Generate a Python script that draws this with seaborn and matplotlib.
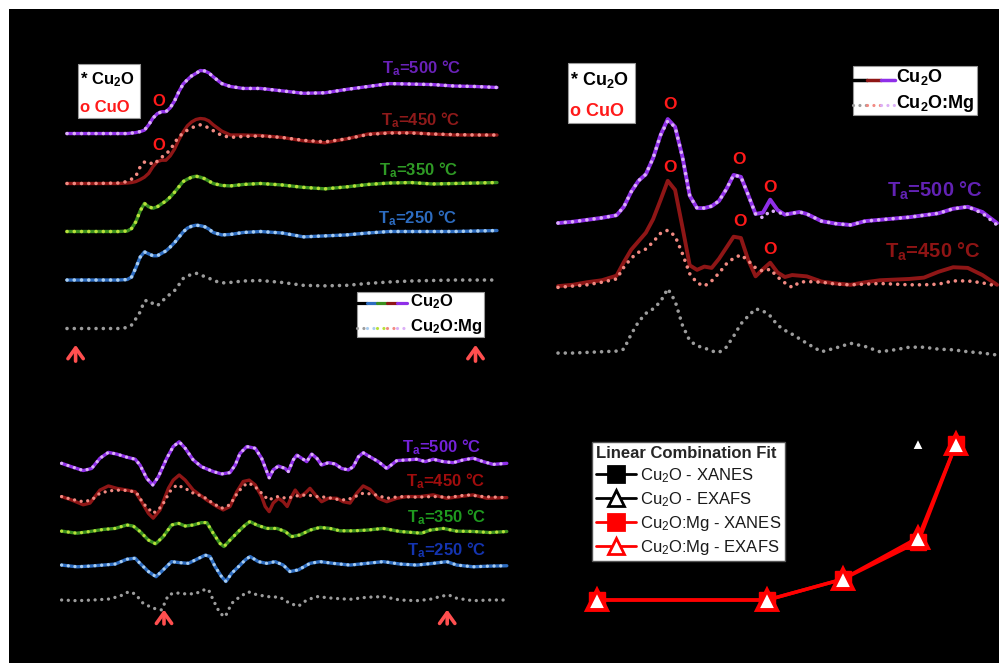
import numpy as np
import matplotlib
matplotlib.use("Agg")
import matplotlib.pyplot as plt
from matplotlib.lines import Line2D
from matplotlib.patches import Rectangle
import seaborn as sns

# ---------------------------------------------------------------- data
# (a) Cu K-edge XANES, normalized absorption
energy_ev = [8960, 8966, 8972, 8974, 8975, 8976, 8977, 8978, 8979, 8980, 8981, 8982,
             8983, 8984, 8985, 8986, 8987, 8988, 8989, 8990, 8991, 8992, 8993, 8994,
             8996, 8998, 9001, 9005, 9010, 9015, 9020, 9025, 9030, 9035, 9040, 9045,
             9050, 9055, 9060]
xanes_500 = [0.03, 0.03, 0.03, 0.03, 0.04, 0.05, 0.07, 0.10, 0.21, 0.35, 0.44, 0.48,
             0.48, 0.56, 0.70, 0.89, 1.05, 1.14, 1.22, 1.27, 1.33, 1.32, 1.28, 1.20,
             1.06, 1.00, 0.96, 0.96, 0.91, 0.86, 0.87, 0.94, 1.00, 1.06, 1.05, 1.04,
             1.01, 1.00, 0.98]
xanes_450 = [0.00, 0.00, 0.00, 0.01, 0.02, 0.04, 0.08, 0.13, 0.21, 0.35, 0.45, 0.48,
             0.48, 0.57, 0.71, 0.90, 1.06, 1.19, 1.27, 1.32, 1.34, 1.33, 1.29, 1.21,
             1.08, 1.00, 1.00, 0.99, 0.95, 0.88, 0.84, 0.92, 1.02, 1.05, 1.05, 1.02,
             1.00, 1.00, 1.00]
xanes_450_mg = [0.00, 0.00, 0.01, 0.04, 0.09, 0.15, 0.34, 0.44, 0.45, 0.39, 0.46, 0.54,
                0.61, 0.69, 0.84, 0.96, 1.04, 1.10, 1.15, 1.18, 1.21, 1.19, 1.14, 1.09,
                0.99, 0.95, 0.97, 0.98, 0.95, 0.89, 0.86, 0.92, 1.01, 1.04, 1.04, 1.02,
                1.01, 1.00, 1.00]
xanes_350 = [0.01, 0.01, 0.01, 0.02, 0.07, 0.21, 0.43, 0.59, 0.52, 0.49, 0.52, 0.58,
             0.64, 0.72, 0.82, 0.93, 1.04, 1.09, 1.13, 1.15, 1.13, 1.10, 1.05, 1.00,
             0.96, 0.95, 0.98, 1.00, 0.97, 0.92, 0.89, 0.93, 0.98, 1.01, 1.02, 0.99,
             1.00, 1.01, 1.02]
xanes_250 = [0.01, 0.01, 0.01, 0.02, 0.07, 0.26, 0.48, 0.59, 0.55, 0.51, 0.51, 0.56,
             0.61, 0.69, 0.78, 0.89, 1.00, 1.08, 1.12, 1.14, 1.13, 1.11, 1.06, 0.99,
             0.94, 0.95, 0.99, 1.01, 0.98, 0.90, 0.92, 0.94, 0.98, 1.01, 1.01, 1.01,
             1.01, 1.02, 1.03]
xanes_asdep = [0.01, 0.01, 0.01, 0.03, 0.08, 0.21, 0.35, 0.58, 0.59, 0.52, 0.48, 0.56,
               0.65, 0.72, 0.79, 0.91, 1.04, 1.09, 1.13, 1.15, 1.12, 1.08, 1.05, 1.00,
               0.95, 0.96, 0.99, 1.00, 0.96, 0.90, 0.89, 0.90, 0.94, 0.97, 0.99, 1.00,
               1.01, 1.01, 1.01]

# (b) Fourier-transform magnitude |chi(R)|
r_ang = [0.0, 0.2, 0.4, 0.6,
         0.8, 0.9, 1.0, 1.1, 1.2, 1.3, 1.4, 1.5, 1.6, 1.7, 1.8, 1.9, 2.0, 2.1, 2.2,
         2.3, 2.4, 2.5, 2.6, 2.7, 2.8, 2.9, 3.0, 3.1, 3.2, 3.3, 3.4,
         3.6, 3.8, 4.0, 4.2, 4.4, 4.6, 4.8, 5.0, 5.2, 5.4, 5.6, 5.8, 6.0]
ft_500 = [0.03, 0.05, 0.08, 0.11,
          0.15, 0.28, 0.51, 0.68, 0.78, 1.03, 1.38, 1.63, 1.51, 1.05, 0.45, 0.26, 0.26,
          0.29, 0.37, 0.55, 0.77, 0.74, 0.46, 0.17, 0.19, 0.39, 0.23, 0.16, 0.18, 0.20, 0.17,
          0.06, 0.02, 0.00, 0.06, 0.08, 0.10, 0.12, 0.15, 0.18, 0.25, 0.28, 0.20, 0.03]
ft_500_mg = [0.03, 0.05, 0.08, 0.11,
             0.15, 0.28, 0.51, 0.68, 0.78, 1.03, 1.38, 1.60, 1.51, 1.05, 0.45, 0.26, 0.26,
             0.29, 0.37, 0.55, 0.77, 0.74, 0.46, 0.17, 0.11, 0.22, 0.20, 0.16, 0.18, 0.20, 0.17,
             0.06, 0.02, 0.00, 0.06, 0.08, 0.10, 0.12, 0.15, 0.18, 0.25, 0.28, 0.18, 0.00]
ft_450 = [0.06, 0.08, 0.12, 0.15,
          0.22, 0.43, 0.62, 0.75, 0.88, 1.09, 1.38, 1.68, 1.54, 0.97, 0.38, 0.31, 0.36,
          0.34, 0.48, 0.65, 0.82, 0.80, 0.46, 0.21, 0.32, 0.42, 0.27, 0.20, 0.23, 0.22, 0.21,
          0.13, 0.10, 0.08, 0.12, 0.15, 0.16, 0.17, 0.19, 0.28, 0.35, 0.34, 0.23, 0.08]
ft_450_mg = [0.04, 0.06, 0.08, 0.12,
             0.17, 0.35, 0.49, 0.58, 0.63, 0.74, 0.87, 0.92, 0.83, 0.56, 0.25, 0.11, 0.06,
             0.14, 0.26, 0.40, 0.49, 0.54, 0.45, 0.34, 0.29, 0.32, 0.20, 0.11, 0.04, 0.12, 0.13,
             0.12, 0.09, 0.08, 0.09, 0.10, 0.09, 0.08, 0.08, 0.09, 0.14, 0.14, 0.11, 0.06]
ft_asdep = [0.03, 0.03, 0.04, 0.05,
            0.06, 0.09, 0.32, 0.51, 0.64, 0.71, 0.82, 1.02, 0.83, 0.46, 0.22, 0.14, 0.11,
            0.06, 0.04, 0.12, 0.29, 0.48, 0.60, 0.71, 0.68, 0.60, 0.46, 0.38, 0.32, 0.25, 0.18,
            0.05, 0.11, 0.18, 0.13, 0.05, 0.08, 0.12, 0.12, 0.09, 0.08, 0.05, 0.03, 0.00]

# (c) EXAFS oscillations chi(k)
k_500 = [1.54, 1.79, 2.08, 2.29, 2.50, 2.71, 2.92, 3.17, 3.38, 3.50, 3.67, 3.82, 3.96,
         4.17, 4.33, 4.48, 4.63, 4.83, 5.04, 5.33, 5.54, 5.75, 5.88, 6.00, 6.17, 6.38,
         6.54, 6.67, 6.73, 6.83, 6.96, 7.13, 7.21, 7.33, 7.42, 7.54, 7.67, 7.79, 7.92,
         8.04, 8.21, 8.38, 8.54, 8.71, 8.83, 8.96, 9.08, 9.25, 9.46, 9.67, 9.92, 10.17,
         10.42, 10.63, 10.83, 11.08, 11.33, 11.58, 11.83, 12.08, 12.33, 12.67]
chi_500 = [-0.01, -0.11, -0.22, -0.16, 0.14, 0.31, 0.26, 0.17, 0.11, -0.06, -0.45, -0.64,
           -0.40, 0.14, 0.48, 0.62, 0.43, 0.09, -0.11, -0.25, -0.32, -0.28, -0.06, 0.28,
           0.48, 0.43, 0.14, -0.25, -0.43, -0.20, -0.09, -0.16, -0.25, 0.09, 0.23, 0.14,
           0.04, 0.26, 0.14, -0.06, 0.01, -0.03, -0.16, -0.20, -0.11, 0.18, 0.30, 0.18,
           0.04, -0.16, 0.07, 0.09, 0.11, 0.04, 0.11, 0.04, 0.01, 0.09, 0.14, 0.04,
           -0.04, -0.01]
k_450 = [1.54, 1.79, 2.08, 2.25, 2.50, 2.71, 2.92, 3.17, 3.38, 3.54, 3.71, 3.83, 4.00,
         4.21, 4.33, 4.48, 4.63, 4.83, 5.17, 5.42, 5.58, 5.75, 5.92, 6.08, 6.23, 6.38,
         6.54, 6.63, 6.73, 6.83, 6.96, 7.08, 7.18, 7.29, 7.38, 7.50, 7.63, 7.75, 7.92,
         8.04, 8.21, 8.42, 8.58, 8.75, 8.92, 9.08, 9.25, 9.46, 9.67, 9.92, 10.17, 10.50,
         10.83, 11.17, 11.50, 11.83, 12.17, 12.67]
chi_450 = [0.02, -0.08, -0.22, -0.17, 0.21, 0.33, 0.26, 0.21, 0.16, -0.13, -0.47, -0.61,
           -0.37, 0.26, 0.50, 0.65, 0.50, 0.21, -0.08, -0.27, -0.37, -0.27, 0.16, 0.46,
           0.50, 0.36, 0.02, -0.27, -0.42, -0.17, -0.03, -0.13, -0.27, 0.02, 0.21, 0.02,
           0.12, 0.26, 0.02, -0.13, -0.03, -0.03, -0.13, -0.17, 0.12, 0.33, 0.23, -0.03,
           -0.13, -0.03, 0.02, 0.02, 0.07, -0.03, 0.02, 0.07, -0.03, -0.01]
k_450_mg = [1.54, 1.79, 2.08, 2.29, 2.50, 2.75, 3.00, 3.25, 3.42, 3.58, 3.83, 4.04, 4.25,
            4.42, 4.63, 4.83, 5.08, 5.33, 5.54, 5.75, 5.96, 6.17, 6.33, 6.54, 6.71, 6.92,
            7.17, 7.42, 7.67, 7.92, 8.17, 8.42, 8.67, 8.92, 9.08, 9.33, 9.67, 10.00, 10.42,
            10.83, 11.25, 11.67, 12.08, 12.67]
chi_450_mg = [0.02, -0.06, -0.13, -0.08, 0.12, 0.19, 0.21, 0.19, 0.12, -0.18, -0.47, -0.27,
              0.17, 0.36, 0.26, 0.12, 0.02, -0.18, -0.32, -0.22, 0.17, 0.41, 0.36, 0.12,
              -0.08, 0.02, -0.03, 0.04, 0.07, 0.02, 0.00, -0.06, -0.08, 0.04, 0.12, 0.09,
              -0.03, 0.02, 0.00, 0.02, 0.00, 0.07, 0.02, -0.01]
k_350 = [1.54, 1.92, 2.25, 2.58, 2.88, 3.17, 3.33, 3.50, 3.71, 3.89, 4.08, 4.29, 4.46,
         4.63, 4.83, 5.04, 5.17, 5.33, 5.50, 5.60, 5.75, 5.96, 6.13, 6.25, 6.42, 6.67,
         6.92, 7.13, 7.29, 7.50, 7.75, 8.00, 8.25, 8.50, 8.83, 9.17, 9.58, 10.00, 10.33,
         10.54, 10.75, 11.08, 11.42, 11.83, 12.25, 12.67]
chi_350 = [0.01, -0.05, 0.00, 0.06, 0.09, 0.19, 0.16, 0.00, -0.25, -0.36, -0.15, 0.19,
           0.24, 0.16, 0.19, 0.26, 0.26, -0.05, -0.35, -0.44, -0.25, 0.00, 0.19, 0.29,
           0.19, 0.09, 0.09, 0.00, -0.15, -0.10, 0.04, 0.12, 0.09, 0.02, 0.02, 0.04,
           0.09, 0.00, -0.03, -0.05, 0.04, 0.09, 0.01, 0.00, -0.03, 0.00]
k_250 = [1.54, 1.92, 2.25, 2.58, 2.88, 3.17, 3.38, 3.50, 3.71, 3.90, 4.08, 4.29, 4.50,
         4.71, 4.92, 5.13, 5.25, 5.38, 5.54, 5.65, 5.79, 5.96, 6.13, 6.25, 6.46, 6.67,
         6.88, 7.08, 7.25, 7.46, 7.75, 8.00, 8.33, 8.75, 9.17, 9.58, 10.00, 10.42, 10.83,
         11.17, 11.42, 11.83, 12.25, 12.67]
chi_250 = [0.02, -0.03, -0.01, 0.02, 0.05, 0.19, 0.22, 0.07, -0.17, -0.32, -0.12, 0.12,
           0.09, 0.07, 0.19, 0.31, 0.27, -0.03, -0.32, -0.46, -0.22, -0.03, 0.17, 0.27,
           0.12, 0.07, 0.12, 0.02, -0.17, -0.12, 0.07, 0.12, 0.07, 0.02, 0.07, 0.12,
           0.05, 0.02, 0.07, 0.12, 0.02, -0.03, -0.01, 0.00]
k_asdep = [1.54, 1.92, 2.33, 2.75, 3.08, 3.21, 3.38, 3.58, 3.83, 4.04, 4.21, 4.38, 4.63,
           4.88, 5.08, 5.21, 5.33, 5.50, 5.63, 5.79, 6.00, 6.21, 6.33, 6.67, 7.00, 7.25,
           7.46, 7.67, 7.92, 8.33, 8.75, 9.17, 9.58, 10.00, 10.42, 10.75, 11.00, 11.21,
           11.42, 11.83, 12.25, 12.67]
chi_asdep = [0.00, -0.02, 0.00, 0.03, 0.15, 0.24, 0.18, -0.10, -0.24, -0.29, 0.15, 0.21,
             0.18, 0.18, 0.29, 0.31, 0.00, -0.39, -0.49, -0.10, 0.10, 0.24, 0.18, 0.10,
             0.08, -0.10, -0.18, 0.00, 0.10, 0.05, 0.02, 0.08, 0.10, 0.00, -0.02, 0.02,
             0.10, 0.15, 0.05, -0.02, 0.00, 0.00]

# (d) CuO fraction from linear combination fitting
anneal_temp = [25, 250, 350, 450, 500]
cu2o_xanes = [0, 2, 10, 75, 100]
cu2o_exafs = [0, 3, 10, 75, 100]
mg_xanes = [0, 0, 10, 28, 75]
mg_exafs = [0, 0, 10, 30, 75]

temp_labels = ["T$_a$=500 °C", "T$_a$=450 °C", "T$_a$=350 °C", "T$_a$=250 °C"]

# ---------------------------------------------------------------- style
sns.set_theme(style="white")
plt.rcParams["font.family"] = ["Liberation Sans", "DejaVu Sans"]
plt.rcParams["mathtext.default"] = "regular"

W, H = 999, 663
fig = plt.figure(figsize=(W / 100, H / 100), dpi=100, facecolor="white")
fig.add_artist(Rectangle((9 / W, 0), 1 - 9 / W, 1 - 9 / H, transform=fig.transFigure,
                         facecolor="black", edgecolor="none", zorder=-10))

DOT = (0, (0.01, 2.0))

# colour pairs: (Cu2O solid, Cu2O:Mg dotted)
C_500 = ("#8f2fe8", "#dcb0f7")
C_450 = ("#8e1616", "#f28a82")
C_350 = ("#3b8f1f", "#b8e03a")
C_250 = ("#2d6cc0", "#a9cdf0")
C_DEP = ("#000000", "#9c9c9c")
LAB_A = ["#6a22b8", "#8e1a1a", "#2f9a25", "#2d6cc0"]
LAB_C = ["#7422d8", "#a00d0d", "#1f9a1f", "#1434b0"]


def fpx(x, y):
    return (x / W, 1 - y / H)


def px_axes(x0, y0, x1, y1):
    ax = fig.add_axes([x0 / W, 1 - y1 / H, (x1 - x0) / W, (y1 - y0) / H])
    ax.set_axis_off()
    return ax


def trace(ax, x, y, color, dotted=False, lw=2.3, z=2):
    kws = dict(x=np.asarray(x, float), y=np.asarray(y, float), ax=ax, color=color,
               estimator=None, sort=False, linewidth=lw, zorder=z)
    if dotted:
        kws.update(linestyle=DOT, dash_capstyle="round", zorder=z + 1)
    else:
        kws.update(solid_capstyle="round", solid_joinstyle="round")
    sns.lineplot(**kws)


def offset(vals, off):
    return np.asarray(vals, float) + off


def up_arrow(ax, x, y0, y1):
    ax.annotate("", xy=(x, y1), xytext=(x, y0), annotation_clip=False,
                arrowprops=dict(arrowstyle="->,head_length=0.35,head_width=0.25",
                                color="#ff4f4f", lw=2.6, mutation_scale=22))


# ---------------------------------------------------------------- (a) XANES
ax_a = px_axes(45.5, 57.4, 518.5, 367.8)
ax_a.set_xlim(8955, 9065)
ax_a.set_ylim(-0.8, 5.6)
xanes_sets = [
    (xanes_500, xanes_500, 4, C_500),
    (xanes_450, xanes_450_mg, 3, C_450),
    (xanes_350, xanes_350, 2, C_350),
    (xanes_250, xanes_250, 1, C_250),
    (xanes_asdep, xanes_asdep, 0, C_DEP),
]
for plain, doped, off, (c_solid, c_dot) in xanes_sets:
    trace(ax_a, energy_ev, offset(plain, off), c_solid, lw=2.4)
    trace(ax_a, energy_ev, offset(doped, off), c_dot, dotted=True, lw=2.6)
up_arrow(ax_a, 8962, -0.72, -0.27)
up_arrow(ax_a, 9055, -0.72, -0.27)
for xy in [(8981.4, 4.70), (8981.4, 3.79)]:
    ax_a.text(*xy, "O", color="#ff1a1a", fontsize=12, fontweight="bold",
              ha="center", va="center")
for (x, y), txt, col in zip([(422, 68), (421, 120), (419, 170), (418, 218)],
                            temp_labels, LAB_A):
    fig.text(*fpx(x, y), txt, color=col, fontsize=12, fontweight="bold",
             ha="center", va="center")

# marker key
fig.add_artist(Rectangle(fpx(78, 118), 62 / W, 54 / H, transform=fig.transFigure,
                         facecolor="white", edgecolor="#999999", lw=0.8, zorder=5))
fig.text(*fpx(80, 80), "* Cu$_2$O", color="black", fontsize=12, fontweight="bold",
         va="center", ha="left", zorder=6)
fig.text(*fpx(80, 107), "o CuO", color="#ff1a1a", fontsize=12, fontweight="bold",
         va="center", ha="left", zorder=6)

# line key
fig.add_artist(Rectangle(fpx(357, 337), 127 / W, 45 / H, transform=fig.transFigure,
                         facecolor="white", edgecolor="#999999", lw=0.8, zorder=5))
for i, pair in enumerate([C_DEP, C_250, C_350, C_450, C_500]):
    xa, xb = 357 + 10 * i, 367 + 10 * i
    fig.add_artist(Line2D([xa / W, xb / W], [1 - 303 / H] * 2, transform=fig.transFigure,
                          color=pair[0], lw=2.3, zorder=6))
    fig.add_artist(Line2D([xa / W, xb / W], [1 - 328 / H] * 2, transform=fig.transFigure,
                          color=pair[1], lw=2.3, linestyle=DOT, dash_capstyle="round",
                          zorder=6))
fig.text(*fpx(410, 302), "Cu$_2$O", fontsize=12, fontweight="bold", color="black",
         va="center", ha="left", zorder=7)
fig.text(*fpx(410, 326), "Cu$_2$O:Mg", fontsize=12, fontweight="bold", color="black",
         va="center", ha="left", zorder=7)

# ---------------------------------------------------------------- (b) FT-EXAFS
ax_b = px_axes(550.7, 56, 998.5, 361.5)
ax_b.set_xlim(-0.1, 6.02)
ax_b.set_ylim(-0.1, 4.6)
ft_sets = [
    (ft_500, ft_500_mg, 2, C_500),
    (ft_450, ft_450_mg, 1, C_450),
    (ft_asdep, ft_asdep, 0, C_DEP),
]
for plain, doped, off, (c_solid, c_dot) in ft_sets:
    trace(ax_b, r_ang, offset(plain, off), c_solid, lw=2.8)
    trace(ax_b, r_ang, offset(doped, off), c_dot, dotted=True, lw=2.6)
for xy in [(1.53, 3.85), (1.53, 2.89), (2.47, 3.00), (2.49, 2.05), (2.90, 2.58), (2.90, 1.63)]:
    ax_b.text(*xy, "O", color="#ff1a1a", fontsize=12.5, fontweight="bold",
              ha="center", va="center")
fig.text(*fpx(935, 191), temp_labels[0], color="#6222b4", fontsize=14.5,
         fontweight="bold", ha="center", va="center")
fig.text(*fpx(933, 252), temp_labels[1], color="#8e1414", fontsize=14.5,
         fontweight="bold", ha="center", va="center")

fig.add_artist(Rectangle(fpx(568, 123), 67 / W, 60 / H, transform=fig.transFigure,
                         facecolor="white", edgecolor="#999999", lw=0.8, zorder=5))
fig.text(*fpx(570, 80), "* Cu$_2$O", color="black", fontsize=13, fontweight="bold",
         va="center", ha="left", zorder=6)
fig.text(*fpx(570, 111), "o CuO", color="#ff1a1a", fontsize=13, fontweight="bold",
         va="center", ha="left", zorder=6)

fig.add_artist(Rectangle(fpx(853, 115), 124 / W, 49 / H, transform=fig.transFigure,
                         facecolor="white", edgecolor="#999999", lw=0.8, zorder=5))
for i, pair in enumerate([C_DEP, C_450, C_500]):
    xa, xb = 853 + 14 * i, 867 + 14 * i
    fig.add_artist(Line2D([xa / W, xb / W], [1 - 80 / H] * 2, transform=fig.transFigure,
                          color=pair[0], lw=2.5, zorder=6))
    fig.add_artist(Line2D([xa / W, xb / W], [1 - 105 / H] * 2, transform=fig.transFigure,
                          color=pair[1], lw=2.3, linestyle=DOT, dash_capstyle="round",
                          zorder=6))
fig.text(*fpx(896, 77), "Cu$_2$O", fontsize=13, fontweight="bold", color="black",
         va="center", ha="left", zorder=7)
fig.text(*fpx(896, 103), "Cu$_2$O:Mg", fontsize=13, fontweight="bold", color="black",
         va="center", ha="left", zorder=7)

# ---------------------------------------------------------------- (c) chi(k)
ax_c = px_axes(40, 428.75, 520, 634.25)
ax_c.set_xlim(1.0, 13.0)
ax_c.set_ylim(-1.0, 5.0)
chi_sets = [
    (k_500, chi_500, k_500, chi_500, 4, C_500),
    (k_450, chi_450, k_450_mg, chi_450_mg, 3, C_450),
    (k_350, chi_350, k_350, chi_350, 2, C_350),
    (k_250, chi_250, k_250, chi_250, 1, C_250),
    (k_asdep, chi_asdep, k_asdep, chi_asdep, 0, C_DEP),
]
for k1, c1, k2, c2, off, (c_solid, c_dot) in chi_sets:
    trace(ax_c, k1, offset(c1, off), c_solid, lw=2.4)
    trace(ax_c, k2, offset(c2, off), c_dot, dotted=True, lw=2.4)
up_arrow(ax_c, 4.1, -0.78, -0.20)
up_arrow(ax_c, 11.18, -0.78, -0.20)
for (x, y), txt, col in zip([(442, 447), (446, 481), (447, 517), (447, 550)],
                            temp_labels, LAB_C):
    fig.text(*fpx(x, y), txt, color=col, fontsize=12, fontweight="bold",
             ha="center", va="center")

# ---------------------------------------------------------------- (d) LCF
ax_d = px_axes(578.1, 412.8, 975, 620.8)
ax_d.set_xlim(0, 525)
ax_d.set_ylim(-10, 90)
sns.lineplot(x=anneal_temp, y=cu2o_xanes, ax=ax_d, color="black", linewidth=2.2,
             marker="s", markersize=10, markerfacecolor="black",
             markeredgecolor="black", markeredgewidth=1.0,
             label="Cu$_2$O - XANES", estimator=None, sort=False, zorder=3)
sns.lineplot(x=anneal_temp, y=cu2o_exafs, ax=ax_d, color="black", linewidth=2.2,
             marker="^", markersize=9, markerfacecolor="white",
             markeredgecolor="black", markeredgewidth=1.5,
             label="Cu$_2$O - EXAFS", estimator=None, sort=False, zorder=3)
sns.lineplot(x=anneal_temp, y=mg_xanes, ax=ax_d, color="#ff0000", linewidth=2.5,
             marker="s", markersize=12, markerfacecolor="#ff0000",
             markeredgecolor="#ff0000", markeredgewidth=1.0,
             label="Cu$_2$O:Mg - XANES", estimator=None, sort=False, zorder=4)
sns.lineplot(x=anneal_temp, y=mg_exafs, ax=ax_d, color="#ff0000", linewidth=2.5,
             marker="^", markersize=15, markerfacecolor="white",
             markeredgecolor="#ff0000", markeredgewidth=2.8,
             label="Cu$_2$O:Mg - EXAFS", estimator=None, sort=False, zorder=5)
leg = ax_d.legend(title="Linear Combination Fit", loc="upper left",
                  bbox_to_anchor=fpx(592, 442), bbox_transform=fig.transFigure,
                  fontsize=12, title_fontproperties={"weight": "bold", "size": 12},
                  frameon=True, fancybox=False, framealpha=1, edgecolor="#555555",
                  facecolor="white", handlelength=2.4, handletextpad=0.2,
                  labelspacing=0.3, borderpad=0.25, borderaxespad=0, alignment="left")
leg.get_frame().set_linewidth(1.0)
for h in leg.legend_handles:
    h.set_markersize(11)
    h.set_markeredgewidth(2.0)
    h.set_linewidth(2.0)
for t in leg.get_texts():
    t.set_color("#1a1a1a")

fig.savefig("out.png", dpi=100, facecolor=fig.get_facecolor())
